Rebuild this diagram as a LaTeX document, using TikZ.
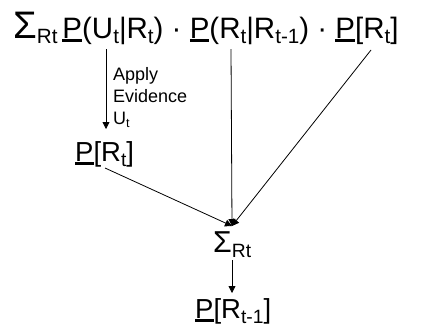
\documentclass[tikz,border=0pt]{standalone}
\usepackage{graphicx}
\usepackage{fontspec}
\setmainfont{Liberation Sans}
\usetikzlibrary{arrows.meta}
\newcommand\UP{\leavevmode\setbox0\hbox{P}\rlap{\rule[-0.15em]{\wd0}{0.1em}}\box0}
\newcommand\subx[1]{\raisebox{-0.2em}{\scalebox{0.7}{#1}}}
\newcommand\bigsig[1]{\scalebox{#1}{Σ}}
\tikzset{
  txt/.style={inner sep=0pt, anchor=base west},
  big/.style={txt, font=\fontsize{29.5}{30}\selectfont},
  mid/.style={txt, font=\fontsize{27.5}{28}\selectfont},
  lbl/.style={inner sep=0pt, anchor=north west, align=left, font=\fontsize{18}{22}\selectfont},
  conn/.style={line width=0.8pt, -{Triangle[length=7pt,width=7pt]}},
}
\begin{document}
\begin{tikzpicture}[x=1pt,y=-1pt]
\useasboundingbox (0,0) rectangle (425,327);
\node[big] (top) at (13,38) {\bigsig{1.3}\subx{Rt}\,\UP(U\subx{t}|R\subx{t}) · \UP(R\subx{t}|R\subx{t-1}) · \UP[R\subx{t}]};
\coordinate (a1) at (106,49);
\coordinate (a2) at (231,49);
\coordinate (a3) at (371,50);
\coordinate (e1) at (106,129);
\node[lbl] (ev) at (113,67) {Apply\\Evidence\\U\subx{t}};
\node[mid] (pm) at (75,161) {\UP[R\subx{t}]};
\coordinate (pms) at (105,168);
\node[mid] (sig) at (213,252) {\bigsig{1.1}\subx{Rt}};
\coordinate (m) at (232,226);
\coordinate (ss) at (232,260);
\node[mid] (bot) at (195,318) {\UP[R\subx{t-1}]};
\coordinate (bt) at (232,293);
\draw[conn] (a1) -- (e1);
\draw[conn] (a2) -- (m);
\draw[conn] (a3) -- (m);
\draw[conn] (pms) -- (m);
\draw[conn] (ss) -- (bt);
\end{tikzpicture}
\end{document}
